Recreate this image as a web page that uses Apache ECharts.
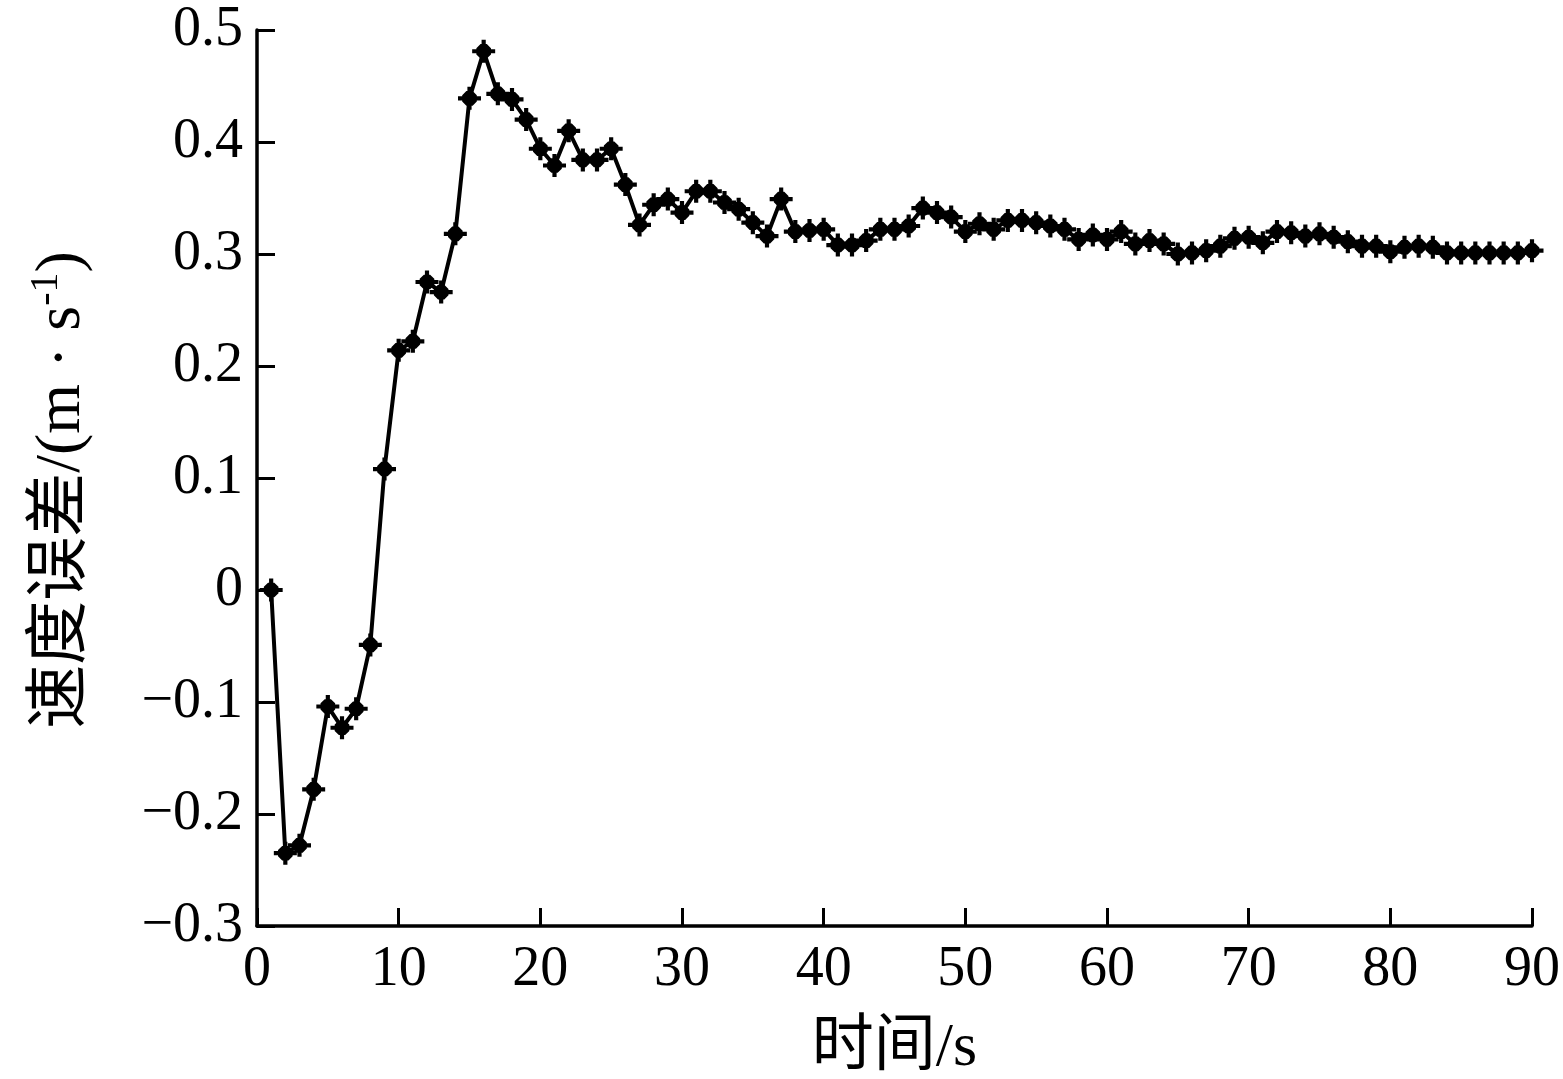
<!DOCTYPE html>
<html>
<head>
<meta charset="utf-8">
<script src="https://cdn.jsdelivr.net/npm/echarts@6/dist/echarts.min.js"></script>
<style>
html,body{margin:0;padding:0;background:#fff;}
#chart{width:1563px;height:1079px;}
</style>
</head>
<body>
<div id="chart"></div>
<script>
// Data
const timeS = [1,2,3,4,5,6,7,8,9,10,11,12,13,14,15,16,17,18,19,20,
  21,22,23,24,25,26,27,28,29,30,31,32,33,34,35,36,37,38,39,40,
  41,42,43,44,45,46,47,48,49,50,51,52,53,54,55,56,57,58,59,60,
  61,62,63,64,65,66,67,68,69,70,71,72,73,74,75,76,77,78,79,80,
  81,82,83,84,85,86,87,88,89,90];
const speedError = [0.000,-0.235,-0.228,-0.178,-0.104,-0.123,-0.106,-0.049,0.108,0.214,
  0.222,0.275,0.266,0.318,0.439,0.481,0.443,0.438,0.420,0.394,
  0.379,0.410,0.384,0.384,0.394,0.362,0.326,0.344,0.349,0.337,
  0.356,0.356,0.346,0.340,0.328,0.316,0.349,0.320,0.321,0.322,
  0.308,0.308,0.312,0.322,0.322,0.325,0.341,0.337,0.333,0.320,
  0.327,0.322,0.330,0.330,0.328,0.325,0.322,0.313,0.317,0.313,
  0.320,0.309,0.312,0.309,0.300,0.301,0.303,0.307,0.314,0.315,
  0.310,0.320,0.319,0.316,0.318,0.315,0.311,0.307,0.307,0.302,
  0.306,0.307,0.306,0.301,0.301,0.301,0.301,0.301,0.301,0.303];
const xTitle = '时间/s';
const yTitle = '速度误差/(m · s{sup|-1})';

const FONT = '"Liberation Serif", "Times New Roman", "Noto Sans CJK SC", serif';
const star = 'path://M-11,-2 L11,-2 L11,2 L-11,2 Z M-2,-11 L2,-11 L2,11 L-2,11 Z M-3,-7 L3,-7 L7,-3 L7,3 L3,7 L-3,7 L-7,3 L-7,-3 Z';

const chart = echarts.init(document.getElementById('chart'));
chart.setOption({
  animation: false,
  backgroundColor: '#fff',
  grid: {left: 257, right: 31, top: 30, bottom: 153, containLabel: false, outerBoundsMode: 'none'},
  xAxis: {
    type: 'value', min: 0, max: 90, interval: 10,
    name: xTitle, nameLocation: 'middle', nameGap: 92,
    nameTextStyle: {fontFamily: FONT, fontSize: 62, color: '#000'},
    axisLine: {onZero: false, lineStyle: {color: '#000', width: 3.5}},
    axisTick: {inside: true, length: 18, lineStyle: {color: '#000', width: 3}},
    axisLabel: {fontFamily: FONT, fontSize: 56, color: '#000', margin: 16},
    splitLine: {show: false}
  },
  yAxis: {
    type: 'value', min: -0.3, max: 0.5, interval: 0.1,
    name: yTitle, nameLocation: 'middle', nameGap: 160,
    nameTextStyle: {fontFamily: FONT, fontSize: 64, color: '#000', lineHeight: 70,
      padding: [0, 24, 0, 0],
      rich: {sup: {fontFamily: FONT, fontSize: 40, verticalAlign: 'top', lineHeight: 70, color: '#000'}}},
    axisLine: {onZero: false, lineStyle: {color: '#000', width: 3.5}},
    axisTick: {inside: true, length: 18, lineStyle: {color: '#000', width: 3}},
    axisLabel: {fontFamily: FONT, fontSize: 56, color: '#000', margin: 14,
      formatter: v => String(Math.round(v * 10) / 10).replace('-', '\u2212')},
    splitLine: {show: false}
  },
  series: [{
    type: 'line',
    data: timeS.map((t, i) => [t, speedError[i]]),
    symbol: star, symbolSize: [23, 23], symbolKeepAspect: true,
    showAllSymbol: true,
    lineStyle: {color: '#000', width: 4},
    itemStyle: {color: '#000'}
  }]
});
</script>
</body>
</html>
